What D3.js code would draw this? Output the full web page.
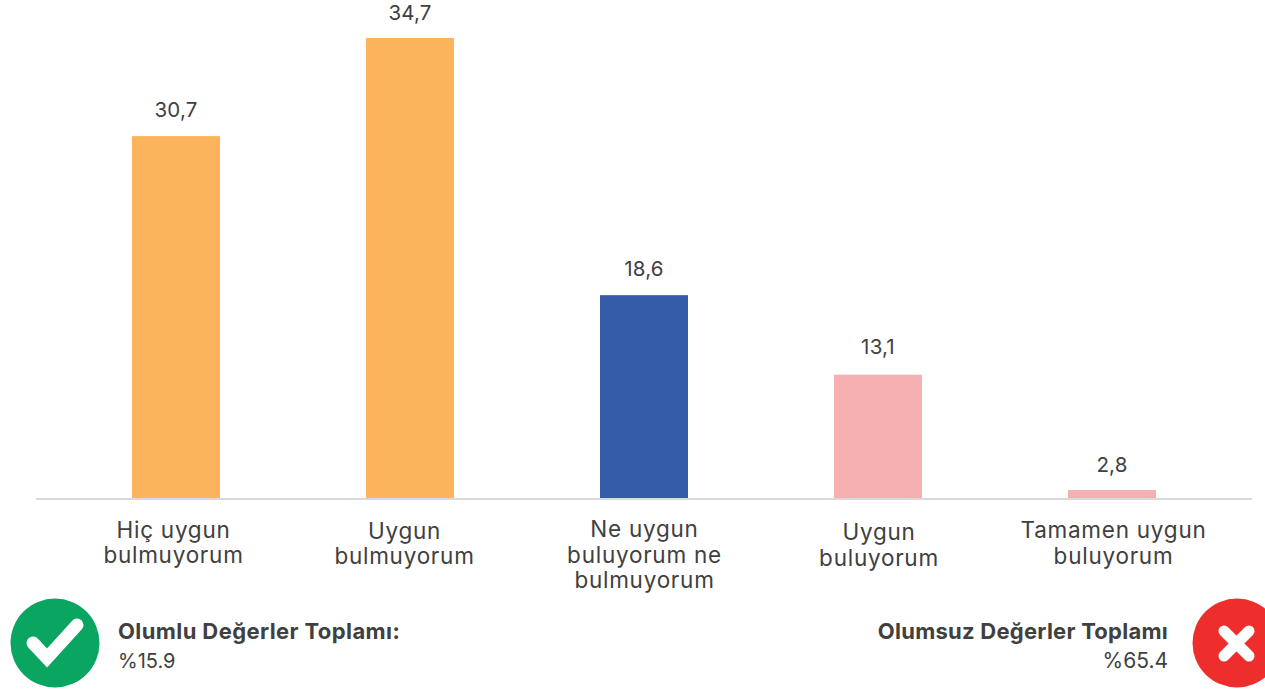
<!DOCTYPE html>
<html>
<head>
<meta charset="utf-8">
<script src="https://cdn.jsdelivr.net/npm/d3@7"></script>
<style>
    html, body { margin: 0; padding: 0; background: #fff; overflow: hidden; }
    text { font-family: Inter, "Open Sans", sans-serif; fill: #404040; }
</style>
</head>
<body>
<div id="the_chart"></div>
<script>
var categories = [
    ["Hiç uygun", "bulmuyorum"],
    ["Uygun", "bulmuyorum"],
    ["Ne uygun", "buluyorum ne", "bulmuyorum"],
    ["Uygun", "buluyorum"],
    ["Tamamen uygun", "buluyorum"]
];
var value_labels = ["30,7", "34,7", "18,6", "13,1", "2,8"]; // printed above the bars
// the bars in the picture are not proportional to their printed labels,
// so these are the lengths as measured against the tallest bar (34,7)
var bar_lengths = [27.3, 34.7, 15.3, 9.3, 0.6];
var bar_groups = ["neg", "neg", "mid", "pos", "pos"];

var totals_left = ["Olumlu Değerler Toplamı:", "%15.9"];
var totals_right = ["Olumsuz Değerler Toplamı", "%65.4"];

var w = 1265;
var h = 689;

var svg = d3.select("#the_chart")
    .append("svg")
    .attr("width", w)
    .attr("height", h)
    .style("display", "block");

var keys = d3.range(categories.length);

var xscale = d3.scaleBand()
    .domain(keys)
    .range([59, 1229])
    .paddingInner(0.624)
    .paddingOuter(0.312);

var yscale = d3.scaleLinear()
    .domain([0, 34.7])
    .range([498, 38]);

var colors = d3.scaleOrdinal()
    .domain(["neg", "mid", "pos"])
    .range(["#fcb45c", "#345ca8", "#f7b0b1"]);

svg.selectAll("rect.bar")
    .data(bar_lengths)
    .enter().append("rect")
    .attr("class", "bar")
    .attr("x", function (d, i) { return xscale(i); })
    .attr("y", function (d) { return yscale(d); })
    .attr("width", xscale.bandwidth())
    .attr("height", function (d) { return yscale(0) - yscale(d); })
    .attr("fill", function (d, i) { return colors(bar_groups[i]); });

// baseline runs a little past the outer bands
svg.append("line")
    .attr("x1", 36)
    .attr("x2", 1252)
    .attr("y1", yscale(0) + 1)
    .attr("y2", yscale(0) + 1)
    .attr("stroke", "#d9d9d9")
    .attr("stroke-width", 2);

var value_gap = [19, 18, 19, 21, 18]; // distance label to bar top wanders in the original

svg.selectAll("text.value")
    .data(value_labels)
    .enter().append("text")
    .attr("class", "value")
    .attr("x", function (d, i) { return xscale(i) + xscale.bandwidth() / 2; })
    .attr("y", function (d, i) { return yscale(bar_lengths[i]) - value_gap[i]; })
    .attr("text-anchor", "middle")
    .style("font-size", "20.5px")
    .style("letter-spacing", "0.2px")
    .text(function (d) { return d; });

// category labels were placed by hand in the original, they are not quite centred
var label_shift = [-2.5, -5.5, 0.5, 1, 1.5];
var label_top = [538, 539, 537, 540, 538];
var label_gap = [25, 25, 25.5, 26, 26];

svg.selectAll("text.cat")
    .data(categories)
    .enter().append("text")
    .attr("class", "cat")
    .attr("text-anchor", "middle")
    .style("font-size", "22.5px")
    .style("letter-spacing", "0.75px")
    .each(function (d, i) {
        d3.select(this).selectAll("tspan")
            .data(d)
            .enter().append("tspan")
            .attr("x", xscale(i) + xscale.bandwidth() / 2 + label_shift[i])
            .attr("y", function (s, j) { return label_top[i] + j * label_gap[i]; })
            .text(function (s) { return s; });
    });

// totals at the bottom
function total(lines, x, anchor, spacing, small) {
    svg.append("text")
        .attr("x", x)
        .attr("y", 639)
        .attr("text-anchor", anchor)
        .style("font-size", "22px")
        .style("font-weight", "700")
        .style("letter-spacing", spacing + "px")
        .text(lines[0]);
    svg.append("text")
        .attr("x", x)
        .attr("y", 668)
        .attr("text-anchor", anchor)
        .style("font-size", small + "px")
        .text(lines[1]);
}
total(totals_left, 118, "start", 0.4, 20);
total(totals_right, 1168, "end", 0.25, 21);

// check icon
svg.append("circle").attr("cx", 55).attr("cy", 643).attr("r", 44.5).attr("fill", "#0ba562");
svg.append("path")
    .attr("d", d3.line()([[33, 643], [47, 658], [77, 625]]))
    .attr("fill", "none")
    .attr("stroke", "#fff")
    .attr("stroke-width", 13)
    .attr("stroke-linecap", "round")
    .attr("stroke-linejoin", "miter");

// cross icon, cut off by the right edge
svg.append("circle").attr("cx", 1237).attr("cy", 643).attr("r", 44.5).attr("fill", "#ee2e2c");
svg.append("path")
    .attr("d", "M1224,631L1249,656M1249,631L1224,656")
    .attr("fill", "none")
    .attr("stroke", "#fff")
    .attr("stroke-width", 11)
    .attr("stroke-linecap", "round");
</script>
</body>
</html>
